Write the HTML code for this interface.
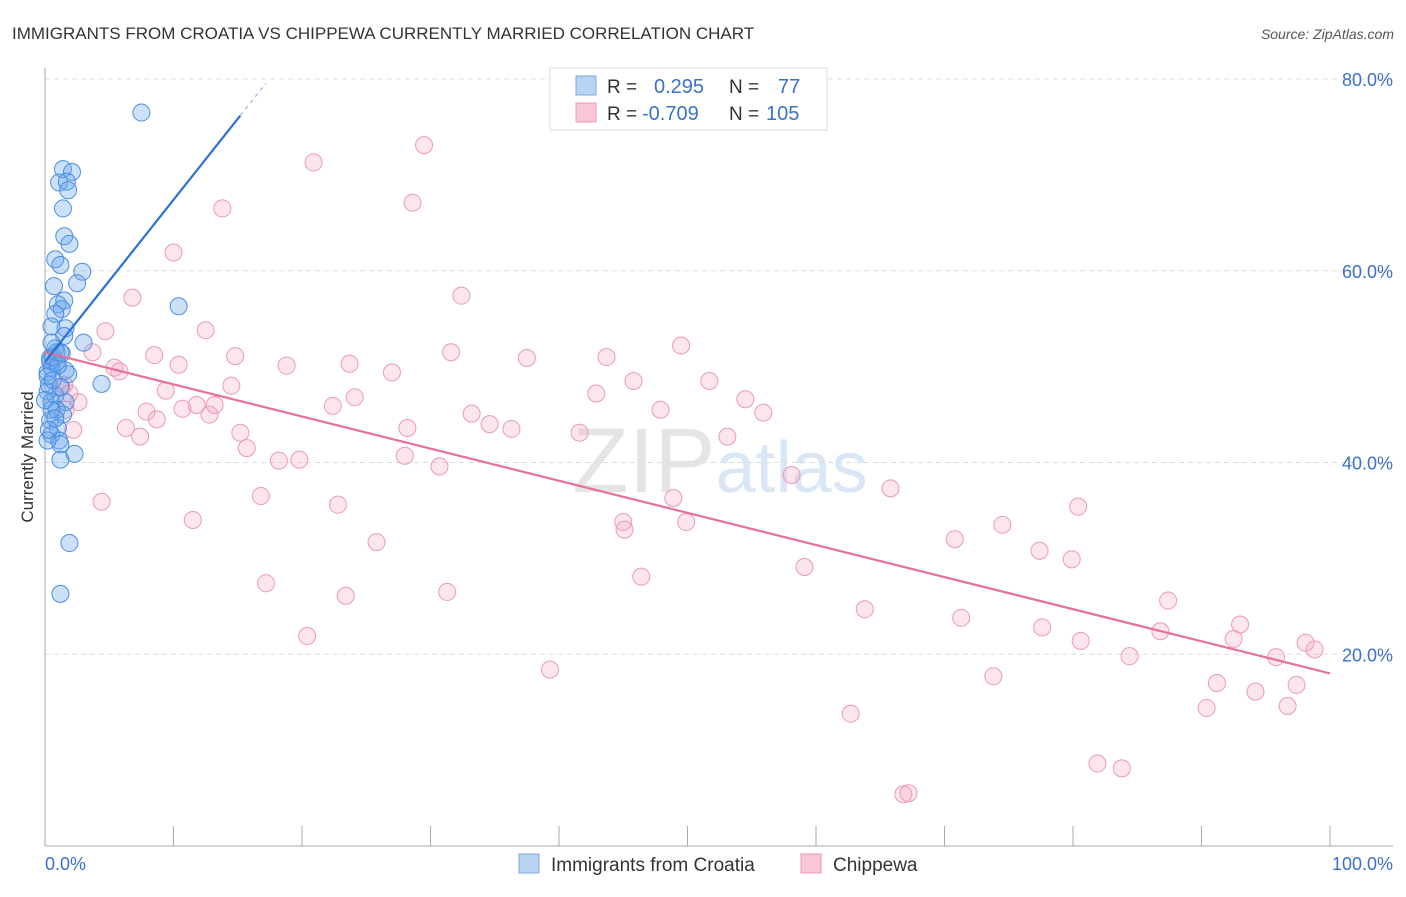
<!DOCTYPE html>
<html><head><meta charset="utf-8"><style>
body{margin:0;background:#fff;font-family:"Liberation Sans",sans-serif;}
svg text{font-family:"Liberation Sans",sans-serif;}
</style></head><body>
<svg id="chart" width="1406" height="892" xmlns="http://www.w3.org/2000/svg">
<text x="12" y="39" font-size="17" fill="#333">IMMIGRANTS FROM CROATIA VS CHIPPEWA CURRENTLY MARRIED CORRELATION CHART</text>
<text x="1394" y="39" font-size="14" fill="#555" text-anchor="end" font-style="italic">Source: ZipAtlas.com</text>
<text x="720" y="492" font-size="92" text-anchor="middle" fill="#e5e5e5" font-family="Liberation Serif">ZIP<tspan fill="#d8e6f6" font-family="Liberation Sans" font-size="72">atlas</tspan></text>
<g id="grid"></g>
<g id="axes"></g>
<g id="pink"></g>
<g id="blue"></g>
<g id="trends"></g>
<text transform="translate(33,457) rotate(-90)" font-size="17" fill="#333" text-anchor="middle">Currently Married</text>
<g>
<rect x="550" y="68" width="277" height="62" fill="#fff" stroke="#ddd"/>
<rect x="576" y="76" width="20" height="19" fill="#b9d3f3" stroke="#7aaae6"/>
<rect x="576" y="103" width="20" height="19" fill="#f9c6d6" stroke="#eb9ab6"/>
<text x="607" y="93" font-size="19" fill="#333">R =</text><text x="654" y="93" font-size="20" fill="#3a72c8">0.295</text>
<text x="729" y="93" font-size="19" fill="#333">N =</text><text x="778" y="93" font-size="20" fill="#3a72c8">77</text>
<text x="607" y="120" font-size="19" fill="#333">R =</text><text x="642" y="120" font-size="20" fill="#3a72c8">-0.709</text>
<text x="729" y="120" font-size="19" fill="#333">N =</text><text x="766" y="120" font-size="20" fill="#3a72c8">105</text>
</g>
<g>
<rect x="519" y="854" width="20" height="19" fill="#b9d3f3" stroke="#7aaae6"/>
<text x="551" y="871" font-size="19" fill="#333">Immigrants from Croatia</text>
<rect x="801" y="854" width="20" height="19" fill="#f9c6d6" stroke="#eb9ab6"/>
<text x="833" y="871" font-size="19" fill="#333">Chippewa</text>
</g>
</svg>
<script>
const yTicks=[20,40,60,80];
const yTickLabels=["20.0%","40.0%","60.0%","80.0%"];
const xTicks=[0,10,20,30,40,50,60,70,80,90,100];
const xTickLabels=["0.0%","100.0%"];
const blueX=[7.5,1.4,2.1,1.1,1.7,1.8,1.4,1.5,1.9,0.8,1.2,2.9,0.7,2.5,1.5,1.0,1.3,0.8,10.4,0.5,1.6,1.5,3.0,0.8,1.2,0.4,0.9,0.5,1.6,1.8,0.2,4.4,0.3,0.8,0.5,1.6,0.9,1.4,0.4,1.0,0.5,1.1,1.2,2.3,1.2,0.2,1.9,1.2,0.4,0.6,0.2,0.2,0.5,0.8,0.3,0.9,1.0,1.3,0.5,0.6,1.2,0.0];
const blueY=[76.5,70.6,70.3,69.2,69.3,68.4,66.5,63.6,62.8,61.2,60.6,59.9,58.4,58.7,56.9,56.5,56.0,55.5,56.3,54.2,54.0,53.2,52.5,51.9,51.5,50.9,50.5,49.9,49.6,49.2,49.4,48.2,48.1,47.0,46.3,46.3,45.5,45.0,44.4,43.6,42.9,42.3,41.9,40.9,40.3,42.3,31.6,26.3,50.6,51.0,49.0,47.4,45.5,44.6,43.4,51.5,50.1,51.4,52.5,48.6,47.9,46.5];
const pinkX=[1.3,1.5,1.6,1.9,2.2,2.6,3.7,4.4,4.7,5.4,5.8,6.3,6.8,7.4,7.9,8.5,8.7,9.4,10.0,10.4,10.7,11.5,11.8,12.5,12.8,13.2,13.8,14.5,14.8,15.2,15.7,16.8,17.2,18.2,18.8,19.8,20.4,20.9,22.4,22.8,23.4,23.7,24.1,25.8,27.0,28.0,28.2,28.6,29.5,30.7,31.3,31.6,32.4,33.2,34.6,36.3,37.5,39.3,41.6,42.9,43.7,45.0,45.1,45.8,46.4,47.9,48.9,49.5,49.9,51.7,53.1,54.5,55.9,58.1,59.1,62.7,63.8,65.8,66.8,67.2,70.8,71.3,73.8,74.5,77.4,77.6,79.9,80.4,80.6,81.9,83.8,84.4,86.8,87.4,90.4,91.2,92.5,93.0,94.2,95.8,96.7,97.4,98.1,98.8];
const pinkY=[47.8,48.1,45.5,47.2,43.4,46.3,51.5,35.9,53.7,49.9,49.5,43.6,57.2,42.7,45.3,51.2,44.5,47.5,61.9,50.2,45.6,34.0,46.0,53.8,45.0,46.0,66.5,48.0,51.1,43.1,41.5,36.5,27.4,40.2,50.1,40.3,21.9,71.3,45.9,35.6,26.1,50.3,46.8,31.7,49.4,40.7,43.6,67.1,73.1,39.6,26.5,51.5,57.4,45.1,44.0,43.5,50.9,18.4,43.1,47.2,51.0,33.8,33.0,48.5,28.1,45.5,36.3,52.2,33.8,48.5,42.7,46.6,45.2,38.7,29.1,13.8,24.7,37.3,5.4,5.5,32.0,23.8,17.7,33.5,30.8,22.8,29.9,35.4,21.4,8.6,8.1,19.8,22.4,25.6,14.4,17.0,21.6,23.1,16.1,19.7,14.6,16.8,21.2,20.5];
const blueTrend=[50.5,1.69];
const pinkTrend=[51.5,18.0];
const NS="http://www.w3.org/2000/svg";
const X0=45,X1=1330,YB=846,YPER=9.5875;
function sx(v){return X0+(X1-X0)*v/100;}
function sy(v){return YB-v*YPER;}
function mk(tag,attrs,parent){const e=document.createElementNS(NS,tag);for(const k in attrs)e.setAttribute(k,attrs[k]);parent.appendChild(e);return e;}
const grid=document.getElementById('grid'),axes=document.getElementById('axes');
yTicks.forEach((t,i)=>{
 const l=mk('line',{x1:45,x2:1393,y1:sy(t),y2:sy(t),stroke:'#ddd','stroke-dasharray':'5,4'},grid);
 
 
 const tx=mk('text',{x:1393,y:sy(t)+7,'font-size':18,fill:'#3a72c8','text-anchor':'end'},axes);
 tx.textContent=yTickLabels[i];
 
 
});
const ya=mk('line',{x1:45,x2:45,y1:68,y2:846,stroke:'#aaa'},axes);


const xa=mk('line',{x1:45,x2:1393,y1:846,y2:846,stroke:'#aaa'},axes);


xTicks.forEach(t=>{
 const l=mk('line',{x1:sx(t),x2:sx(t),y1:826,y2:846,stroke:'#aaa'},axes);
 
 
});
const xl0=mk('text',{x:45,y:870,'font-size':18,fill:'#3a72c8'},axes);xl0.textContent=xTickLabels[0];


const xl1=mk('text',{x:1393,y:870,'font-size':18,fill:'#3a72c8','text-anchor':'end'},axes);xl1.textContent=xTickLabels[1];


const pg=document.getElementById('pink'),bg=document.getElementById('blue');
pinkX.forEach((x,i)=>{
 const c=mk('circle',{cx:sx(x),cy:sy(pinkY[i]),r:8.5,fill:'rgba(244,160,190,0.28)',stroke:'#eb9ab6','stroke-width':1},pg);
 
 
});
blueX.forEach((x,i)=>{
 const c=mk('circle',{cx:sx(x),cy:sy(blueY[i]),r:8.5,fill:'rgba(110,165,235,0.35)',stroke:'#4a8fe0','stroke-width':1},bg);
 
 
});
const tg=document.getElementById('trends');
const pl=mk('line',{x1:sx(0),y1:sy(pinkTrend[0]),x2:sx(100),y2:sy(pinkTrend[1]),stroke:'#e8719a','stroke-width':2.2},tg);


const bl=mk('line',{x1:sx(0),y1:sy(blueTrend[0]),x2:sx(15.2),y2:sy(blueTrend[0]+blueTrend[1]*15.2),stroke:'#2a72d8','stroke-width':2.2},tg);


const bd=mk('line',{x1:sx(15.2),y1:sy(blueTrend[0]+blueTrend[1]*15.2),x2:sx(17.2),y2:sy(blueTrend[0]+blueTrend[1]*17.2),stroke:'#9ab8e0','stroke-width':1.2,'stroke-dasharray':'4,4'},tg);


</script>
</body></html>
